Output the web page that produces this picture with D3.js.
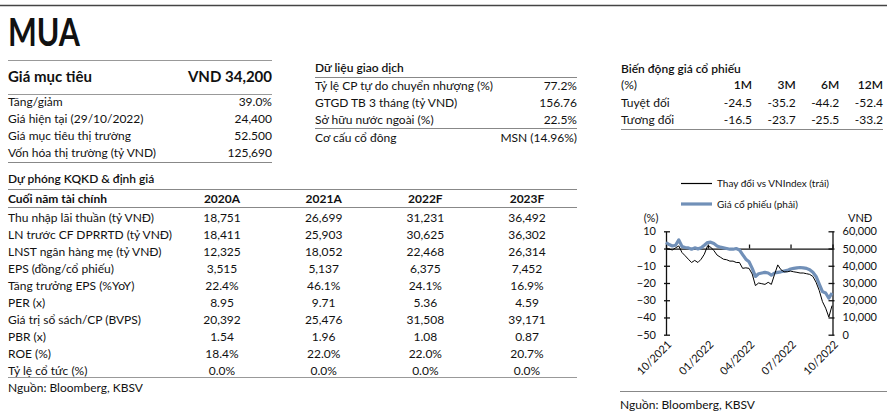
<!DOCTYPE html>
<html><head><meta charset="utf-8">
<script src="https://cdn.jsdelivr.net/npm/d3@7"></script>
<style>
html,body{margin:0;padding:0;background:#fff;}
text{font-family:Lato,"Open Sans",sans-serif;fill:#111;}
</style></head>
<body><svg id="c" width="890" height="413"></svg>
<script>
// ---------- data ----------
const rating = "MUA";
const targetLabel = "Giá mục tiêu";
const targetValue = "VND 34,200";
const summaryLabels = ["Tăng/giảm","Giá hiện tại (29/10/2022)","Giá mục tiêu thị trường","Vốn hóa thị trường (tỷ VND)"];
const summaryValues = ["39.0%","24,400","52.500","125,690"];

const tradingTitle = "Dữ liệu giao dịch";
const tradingLabels = ["Tỷ lệ CP tự do chuyển nhượng (%)","GTGD TB 3 tháng (tỷ VND)","Sở hữu nước ngoài (%)","Cơ cấu cổ đông"];
const tradingValues = ["77.2%","156.76","22.5%","MSN (14.96%)"];

const perfTitle = "Biến động giá cổ phiếu";
const perfHeaders = ["(%)","1M","3M","6M","12M"];
const perfRows = ["Tuyệt đối","Tương đối"];
const perfAbs = ["-24.5","-35.2","-44.2","-52.4"];
const perfRel = ["-16.5","-23.7","-25.5","-33.2"];

const fcTitle = "Dự phóng KQKD & định giá";
const fcHeaders = ["Cuối năm tài chính","2020A","2021A","2022F","2023F"];
const fcLabels = ["Thu nhập lãi thuần (tỷ VNĐ)","LN trước CF DPRRTD (tỷ VNĐ)","LNST ngân hàng mẹ (tỷ VNĐ)","EPS (đồng/cổ phiếu)","Tăng trưởng EPS (%YoY)","PER (x)","Giá trị sổ sách/CP (BVPS)","PBR (x)","ROE (%)","Tỷ lệ cổ tức (%)"];
const fc2020 = ["18,751","18,411","12,325","3,515","22.4%","8.95","20,392","1.54","18.4%","0.0%"];
const fc2021 = ["26,699","25,903","18,052","5,137","46.1%","9.71","25,476","1.96","22.0%","0.0%"];
const fc2022 = ["31,231","30,625","22,468","6,375","24.1%","5.36","31,508","1.08","22.0%","0.0%"];
const fc2023 = ["36,492","36,302","26,314","7,452","16.9%","4.59","39,171","0.87","20.7%","0.0%"];
const sourceText = "Nguồn: Bloomberg, KBSV";

// chart series (weekly readings)
const chartDates = ["2021-10-01","2021-10-08","2021-10-15","2021-10-22","2021-10-29","2021-11-05","2021-11-12","2021-11-19","2021-11-26","2021-12-03","2021-12-10","2021-12-17","2021-12-24","2021-12-31","2022-01-07","2022-01-14","2022-01-21","2022-01-28","2022-02-04","2022-02-11","2022-02-18","2022-02-25","2022-03-04","2022-03-11","2022-03-18","2022-03-25","2022-04-01","2022-04-08","2022-04-15","2022-04-22","2022-04-29","2022-05-06","2022-05-13","2022-05-20","2022-05-27","2022-06-03","2022-06-10","2022-06-17","2022-06-24","2022-07-01","2022-07-08","2022-07-15","2022-07-22","2022-07-29","2022-08-05","2022-08-12","2022-08-19","2022-08-26","2022-09-02","2022-09-09","2022-09-16","2022-09-23","2022-09-30"];
const relVsIndex = [0,-0.4,-0.8,0.4,1.5,-2.3,-4.2,-6.2,-8.1,-6.9,-8.1,-6.2,-3.3,1.5,0.8,-1.2,-3.8,-5.0,-6.2,-6.5,-7.3,-7.3,-8.1,-8.1,-11.5,-11.2,-11.5,-14.8,-21.5,-20.0,-20.4,-20.8,-19.6,-20.8,-15.0,-9.5,-12.3,-13.5,-13.5,-13.1,-13.5,-13.8,-14.2,-14.2,-14.6,-15.0,-16.2,-19.6,-24.4,-30.8,-34.6,-39.8,-33.1];
const sharePrice = [53500,52300,51500,51900,55000,51200,50600,50400,49600,50400,49800,50400,51900,53500,53700,52900,51500,50800,50400,50000,49600,49600,50000,49200,46500,43800,42300,38500,33800,35400,35800,36200,35800,34600,35800,36200,36500,36900,37300,38100,38500,38800,39000,38800,38500,37700,36200,33800,29400,25000,24200,21200,24200];
const leftTicks = [10,0,-10,-20,-30,-40,-50];
const rightTicks = [60000,50000,40000,30000,20000,10000,0];
const xTickDates = ["2021-10-01","2022-01-01","2022-04-01","2022-07-01","2022-10-01"];
const legendLabels = ["Thay đổi vs VNIndex (trái)","Giá cổ phiếu (phải)"];

// ---------- drawing ----------
const svg = d3.select("#c");
const hline = (x1,x2,y,c,w)=>svg.append("line").attr("x1",x1).attr("x2",x2).attr("y1",y).attr("y2",y).attr("stroke",c).attr("stroke-width",w||1);
const txt = (x,y,s,o={})=>svg.append("text").attr("x",x).attr("y",y).attr("dominant-baseline","central")
  .attr("text-anchor",o.a||"start").style("font-size",(o.fs||12)+"px").style("font-weight",o.fw||400).text(s);

hline(0,887,5.5,"#444",1.6);
txt(8,31,rating,{fs:38,fw:700}).attr("textLength",72).attr("lengthAdjust","spacingAndGlyphs");

// summary block
hline(8,272,60.5,"#999");
txt(8,76,targetLabel,{fs:15,fw:700});
txt(272,76,targetValue,{fs:15,fw:700,a:"end"});
hline(8,272,94.5,"#999");
const ySum = d3.scalePoint().domain(d3.range(summaryLabels.length)).range([101,152]);
summaryLabels.forEach((l,i)=>{txt(8,ySum(i),l); txt(272,ySum(i),summaryValues[i],{a:"end"});});
hline(8,272,162.5,"#888",1.2);

// trading block
txt(315,67,tradingTitle,{fw:600});
hline(315,577,77.5,"#888");
const yTr = d3.scalePoint().domain(d3.range(tradingLabels.length)).range([85,137]);
tradingLabels.forEach((l,i)=>{txt(315,yTr(i),l); txt(577,yTr(i),tradingValues[i],{a:"end"});});
hline(315,577,128.5,"#888");

// performance block
txt(621,68,perfTitle,{fw:600});
const xPerf = d3.scalePoint().domain(d3.range(1,5)).range([752,883]);
txt(621,84,perfHeaders[0]);
perfHeaders.slice(1).forEach((h,i)=>txt(xPerf(i+1),84,h,{a:"end",fw:600}));
[perfAbs,perfRel].forEach((arr,r)=>{
  const y = 102 + r*17;
  txt(621,y,perfRows[r]);
  arr.forEach((v,i)=>txt(xPerf(i+1),y,v,{a:"end"}));
});
hline(621,883,129.5,"#888",1.2);

// forecast table
txt(8,178,fcTitle,{fw:600});
hline(8,577,189.5,"#888",1.2);
const xCol = d3.scalePoint().domain([1,2,3,4]).range([222,527]);
txt(8,198,fcHeaders[0],{fw:700});
fcHeaders.slice(1).forEach((h,i)=>txt(xCol(i+1),198,h,{a:"middle",fw:700}));
hline(8,577,207.5,"#888",1.2);
const yRow = d3.scalePoint().domain(d3.range(fcLabels.length)).range([217,370]);
const cols=[fc2020,fc2021,fc2022,fc2023];
fcLabels.forEach((l,i)=>{
  txt(8,yRow(i),l);
  cols.forEach((c,j)=>txt(xCol(j+1),yRow(i),c[i],{a:"middle"}));
});
hline(8,577,377.5,"#999",1.2);
txt(8,387,sourceText);

// ---------- chart ----------
const parse = d3.timeParse("%Y-%m-%d");
const dates = chartDates.map(parse);
const x = d3.scaleTime().domain([parse("2021-10-01"),parse("2022-10-01")]).range([666,832.5]);
const yL = d3.scaleLinear().domain([-50,10]).range([334.7,231.3]);
const yR = d3.scaleLinear().domain([0,60000]).range([334.7,231.3]);
const chartFs = 11;

const gL = svg.append("g").attr("transform","translate(666,0)")
  .call(d3.axisLeft(yL).tickValues(leftTicks).tickSizeInner(-4).tickSizeOuter(0).tickPadding(10).tickFormat(d3.format("d")));
const gR = svg.append("g").attr("transform","translate(832.5,0)")
  .call(d3.axisRight(yR).tickValues(rightTicks).tickSizeInner(-4).tickSizeOuter(0).tickPadding(10).tickFormat(d3.format(",")));
const gX = svg.append("g").attr("transform",`translate(0,${yL(0)})`)
  .call(d3.axisBottom(x).tickValues(xTickDates.map(parse)).tickSizeInner(-4).tickSizeOuter(0).tickFormat(""));
[gL,gR,gX].forEach(g=>{
  g.selectAll("path,line").attr("stroke","#111").attr("stroke-width",1.3);
  g.selectAll("text").style("font-size",chartFs+"px").style("font-family","Lato,'Open Sans',sans-serif").attr("fill","#111");
});
gL.selectAll(".tick line").attr("x1",-2).attr("x2",4);
gR.selectAll(".tick line").attr("x1",2).attr("x2",-4);

xTickDates.forEach(ds=>{
  const d = parse(ds);
  svg.append("text").attr("transform",`translate(${x(d)+3},${342}) rotate(-45)`)
    .attr("text-anchor","end").attr("dominant-baseline","central")
    .style("font-size",chartFs+"px").text(d3.timeFormat("%m/%Y")(d));
});

txt(651,217,"(%)",{fs:chartFs,a:"middle"});
txt(848,217,"VNĐ",{fs:chartFs});

const lineBlue = d3.line().x((d,i)=>x(dates[i])).y(d=>yR(d));
const lineBlack = d3.line().x((d,i)=>x(dates[i])).y(d=>yL(d));
svg.append("path").datum(sharePrice).attr("d",lineBlue).attr("fill","none").attr("stroke","#7190b8").attr("stroke-width",3.2).attr("stroke-linejoin","round");
svg.append("path").datum(relVsIndex).attr("d",lineBlack).attr("fill","none").attr("stroke","#000").attr("stroke-width",1).attr("stroke-linejoin","round");

hline(681,712,183.5,"#000",1.2);
txt(717,183,legendLabels[0],{fs:10});
hline(681,712,204,"#7190b8",3.2);
txt(717,204,legendLabels[1],{fs:10});

hline(620,887,391.5,"#888",1.2);
txt(620,404,sourceText);
</script></body></html>
